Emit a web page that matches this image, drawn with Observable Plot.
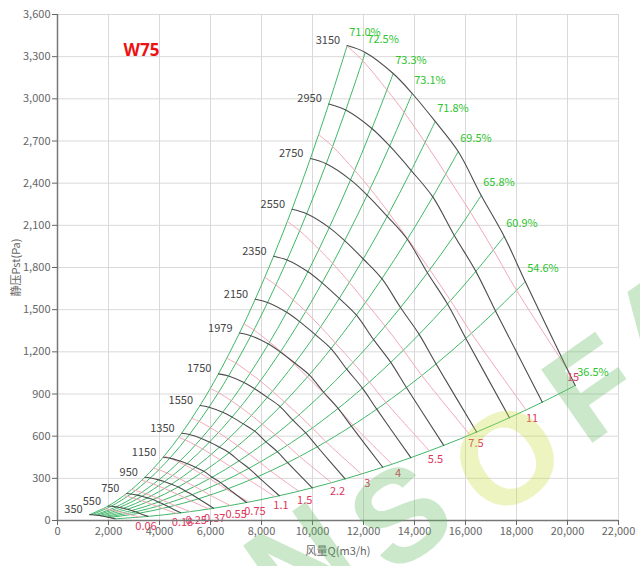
<!DOCTYPE html>
<html><head><meta charset="utf-8">
<script src="https://cdn.jsdelivr.net/npm/d3@7"></script>
<script src="https://cdn.jsdelivr.net/npm/@observablehq/plot@0.6"></script>
<style>
body{margin:0;background:#fff}
#chart svg{display:block}
</style>
</head><body><div id="chart"></div>
<script>
// ---- data ----
const title = "W75";
const speeds = [350, 550, 750, 950, 1150, 1350, 1550, 1750, 1979, 2150, 2350, 2550, 2750, 2950, 3150];
const baseSpeed = 3150;
// performance points on the 3150 rpm curve (one per green efficiency line)
const baseFlow = [11360, 12070, 13165, 13910, 14812, 15714, 16616, 17518, 18341, 20302];
const basePressure = [3379, 3330, 3180, 3038, 2839, 2625, 2312, 2021, 1700, 960];
const efficiency = [71.0, 72.5, 73.3, 73.1, 71.8, 69.5, 65.8, 60.9, 54.6, 36.5];
const powers = [0.06, 0.18, 0.25, 0.37, 0.55, 0.75, 1.1, 1.5, 2.2, 3, 4, 5.5, 7.5, 11, 15];
const xTicks = [0, 2000, 4000, 6000, 8000, 10000, 12000, 14000, 16000, 18000, 20000, 22000];
const yTicks = [0, 300, 600, 900, 1200, 1500, 1800, 2100, 2400, 2700, 3000, 3300, 3600];
const xLabel = "风量Q(m3/h)";
const yLabel = "静压Pst(Pa)";
const watermark = ["N", "S", "O", "F", "A"];

// ---- fan affinity laws: Q ~ n, P ~ n^2, power ~ n^3 ----
const speedRows = [];
for (const n of speeds) {
  const s = n / baseSpeed;
  baseFlow.forEach((q, i) => speedRows.push({n, Q: q * s, P: basePressure[i] * s * s}));
}
const greenRows = [];
baseFlow.forEach((q, i) => {
  for (const n of speeds) {
    const s = n / baseSpeed;
    greenRows.push({i, Q: q * s, P: basePressure[i] * s * s});
  }
});
const basePower = baseFlow.map((q, i) => q * basePressure[i] / 3.6e6 / (efficiency[i] / 100));
const pinkRows = [];
const pinkEnds = [];
for (const W of powers) {
  let last = null;
  for (let i = 0; i < baseFlow.length; i++) {
    const s = Math.cbrt(W / basePower[i]);
    if (s <= 1) {
      last = {W, Q: baseFlow[i] * s, P: basePressure[i] * s * s};
      pinkRows.push(last);
    } else {
      if (i > 0) {
        const t = (basePower[i - 1] - W) / (basePower[i - 1] - basePower[i]);
        last = {W, Q: baseFlow[i - 1] + t * (baseFlow[i] - baseFlow[i - 1]),
                P: basePressure[i - 1] + t * (basePressure[i] - basePressure[i - 1])};
        pinkRows.push(last);
      }
      break;
    }
  }
  if (last) pinkEnds.push(last);
}
const speedLabels = speeds.map(n => {
  const s = n / baseSpeed;
  return {n, Q: baseFlow[0] * s, P: basePressure[0] * s * s};
});
const effLabels = efficiency.map((e, i) => ({t: e.toFixed(1) + "%", Q: baseFlow[i], P: basePressure[i]}));

const FONT = "'Noto Sans CJK SC', 'Noto Sans', sans-serif";
const GREEN = "#3fb868";
const fmt = d3.format(",");
const chart = Plot.plot({
  width: 640, height: 566,
  marginLeft: 57, marginRight: 22, marginTop: 14, marginBottom: 46,
  style: {fontFamily: FONT, fontSize: "11px", background: "#fff"},
  x: {domain: [0, 22000]},
  y: {domain: [0, 3600]},
  marks: [
    Plot.gridX(xTicks, {stroke: "#d9d9d9", strokeOpacity: 1}),
    Plot.gridY(yTicks, {stroke: "#d9d9d9", strokeOpacity: 1}),
    Plot.line(greenRows, {x: "Q", y: "P", z: "i", stroke: GREEN, strokeWidth: 1, curve: "catmull-rom"}),
    Plot.line(pinkRows, {x: "Q", y: "P", z: "W", stroke: "#f2a9b8", strokeWidth: 1, curve: "catmull-rom"}),
    Plot.line(speedRows, {x: "Q", y: "P", z: "n", stroke: "#4d4d4d", strokeWidth: 1.1, curve: "catmull-rom"}),
    Plot.text(speedLabels, {x: "Q", y: "P", text: d => String(d.n), textAnchor: "end", dx: -7, dy: -5, fill: "#444", fontSize: 11}),
    Plot.text(effLabels, {x: "Q", y: "P", text: "t", textAnchor: "start", dx: 2, dy: -13, fill: "#2ec42e", fontSize: 11}),
    Plot.text(pinkEnds, {x: "Q", y: "P", text: d => String(d.W), textAnchor: "middle", dx: 6, dy: 9, fill: "#e0365e", fontSize: 11}),
    Plot.ruleX([0], {stroke: "#777", strokeWidth: 1.5}),
    Plot.ruleY([0], {stroke: "#777", strokeWidth: 1.5}),
    Plot.axisX({ticks: xTicks, tickFormat: fmt, tickSize: 5, tickPadding: 2, color: "#666",
      label: xLabel, labelAnchor: "center", labelArrow: "none", labelOffset: 34}),
    Plot.axisY({ticks: yTicks, tickFormat: fmt, tickSize: 5, tickPadding: 2, color: "#666",
      label: yLabel, labelAnchor: "center", labelArrow: "none", labelOffset: 45}),
    Plot.text([title], {frameAnchor: "top-left", dx: 66, dy: 29, textAnchor: "start", fill: "#ee1111", fontSize: 17, fontWeight: "bold", fontFamily: "'Open Sans', sans-serif"})
  ]
});
document.getElementById("chart").append(chart);

// brand watermark, semi-transparent, on top
const svg = d3.select(chart);
const wm = svg.append("g").attr("pointer-events", "none").attr("font-family", "'Liberation Sans', sans-serif").attr("font-weight", "bold").attr("font-size", 130);
const wmPos = [[300, 560], [400, 515], [507, 458], [592, 388], [662, 322]];
watermark.forEach((ch, k) => {
  wm.append("text").text(ch)
    .attr("transform", `translate(${wmPos[k][0]},${wmPos[k][1]}) rotate(-35)`)
    .attr("text-anchor", "middle").attr("dominant-baseline", "central")
    .attr("fill", ch === "O" ? "#c8dc3c" : "#5cb85c").attr("fill-opacity", 0.32);
});
</script>
</body></html>
